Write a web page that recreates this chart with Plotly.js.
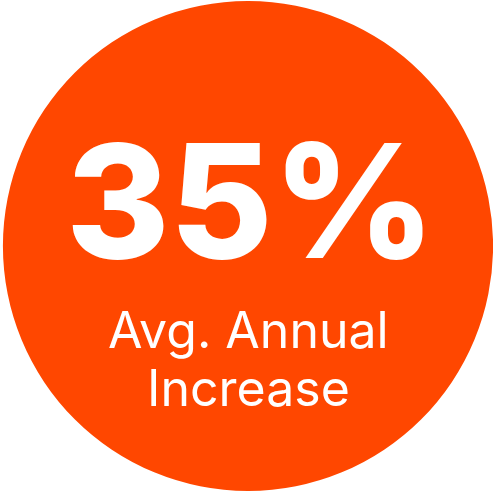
<!DOCTYPE html>
<html>
<head>
<meta charset="utf-8">
<script src="https://cdn.plot.ly/plotly-3.0.1.min.js"></script>
<style>html,body{margin:0;padding:0;background:#fff;}#chart{width:493px;height:491px;}</style>
</head>
<body>
<div id="chart"></div>
<script>
const metricValue = [35];
const metricUnit = ["%"];
const metricLabel = ["Avg. Annual", "Increase"];
const circleShare = [100];

const W = 493, H = 491;
const data = [{
  type: 'pie',
  values: circleShare,
  labels: ['metric'],
  marker: {colors: ['#FF4700'], line: {width: 0}},
  textinfo: 'none',
  hoverinfo: 'skip',
  sort: false,
  showlegend: false,
  domain: {x: [3 / W, 493 / W], y: [0, 490 / H]}
}];

const labelCenters = [330, 388];
const annotations = [{
  xref: 'paper', yref: 'paper', x: 250 / W, y: 1 - 201 / H,
  xanchor: 'center', yanchor: 'middle', showarrow: false,
  text: metricValue[0] + metricUnit[0],
  font: {family: 'Inter, sans-serif', size: 158, color: '#ffffff', weight: 800}
}];
metricLabel.forEach((t, i) => {
  annotations.push({
    xref: 'paper', yref: 'paper', x: 248 / W, y: 1 - labelCenters[i] / H,
    xanchor: 'center', yanchor: 'middle', showarrow: false,
    text: t,
    font: {family: 'Inter, sans-serif', size: 50, color: '#ffffff', weight: 400}
  });
});

const layout = {
  width: W, height: H,
  margin: {l: 0, r: 0, t: 0, b: 0},
  paper_bgcolor: '#ffffff',
  showlegend: false,
  annotations: annotations
};

Plotly.newPlot('chart', data, layout, {displayModeBar: false, staticPlot: true});
</script>
</body>
</html>
